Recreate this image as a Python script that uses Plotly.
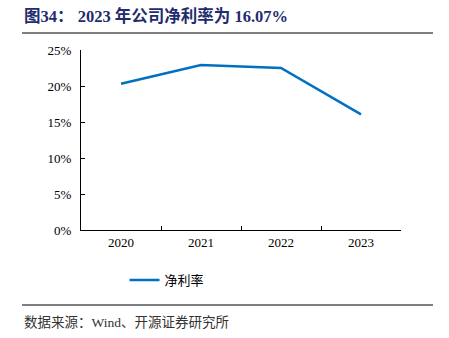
import plotly.graph_objects as go

years = ["2020", "2021", "2022", "2023"]
net_margin = [20.3, 22.9, 22.5, 16.07]
y_ticks = [0, 5, 10, 15, 20, 25]
y_labels = ["0%", "5%", "10%", "15%", "20%", "25%"]

W, H = 449, 338
L, R, T, B = 81, 48, 50, 108
pw, ph = W - L - R, H - T - B

def px(x):
    return (x - L) / pw

def py(y):
    return (H - B - y) / ph

fig = go.Figure()
fig.add_trace(go.Scatter(x=years, y=net_margin, mode="lines", name="净利率",
                         line=dict(color="#0070C0", width=2.5)))

serif = "Times New Roman, Liberation Serif, Noto Sans CJK SC, serif"
fig.update_layout(
    width=W, height=H,
    margin=dict(l=L, r=R, t=T, b=B),
    paper_bgcolor="white", plot_bgcolor="white",
    font=dict(family=serif, size=13, color="black"),
    showlegend=True,
    legend=dict(orientation="h", x=px(167), y=py(280), xanchor="center", yanchor="middle",
                font=dict(family="Noto Sans CJK SC", size=13, color="black"),
                bgcolor="rgba(0,0,0,0)"),
    xaxis=dict(type="category", range=[-0.5, 3.5], showline=True, linecolor="black", linewidth=1,
               ticks="inside", tickson="boundaries", ticklen=4, tickcolor="black",
               showgrid=False, zeroline=False, tickfont=dict(size=13)),
    yaxis=dict(range=[0, 25], tickvals=y_ticks, ticktext=y_labels, showline=True,
               linecolor="black", linewidth=1, ticks="inside", ticklen=4, tickcolor="black",
               showgrid=False, zeroline=False, tickfont=dict(size=13), ticklabelstandoff=6),
    shapes=[
        dict(type="line", xref="paper", yref="paper", x0=px(22), x1=px(433), y0=py(33), y1=py(33),
             line=dict(color="#555555", width=1.5)),
        dict(type="line", xref="paper", yref="paper", x0=px(22), x1=px(433), y0=py(305), y1=py(305),
             line=dict(color="#555555", width=1.5)),
    ],
    annotations=[
        dict(text="<b>图34： 2023 年公司净利率为 16.07%</b>", xref="paper", yref="paper",
             x=px(22), y=py(16), xanchor="left", yanchor="middle", showarrow=False,
             font=dict(family="Times New Roman, Liberation Serif, Noto Sans CJK SC", size=16.5, color="#1F2C6E")),
        dict(text="数据来源：Wind、开源证券研究所", xref="paper", yref="paper",
             x=px(22), y=py(322), xanchor="left", yanchor="middle", showarrow=False,
             font=dict(family="Liberation Serif, Noto Sans CJK SC", size=13.5, color="#333333")),
    ],
)

fig.write_html("out.html")
